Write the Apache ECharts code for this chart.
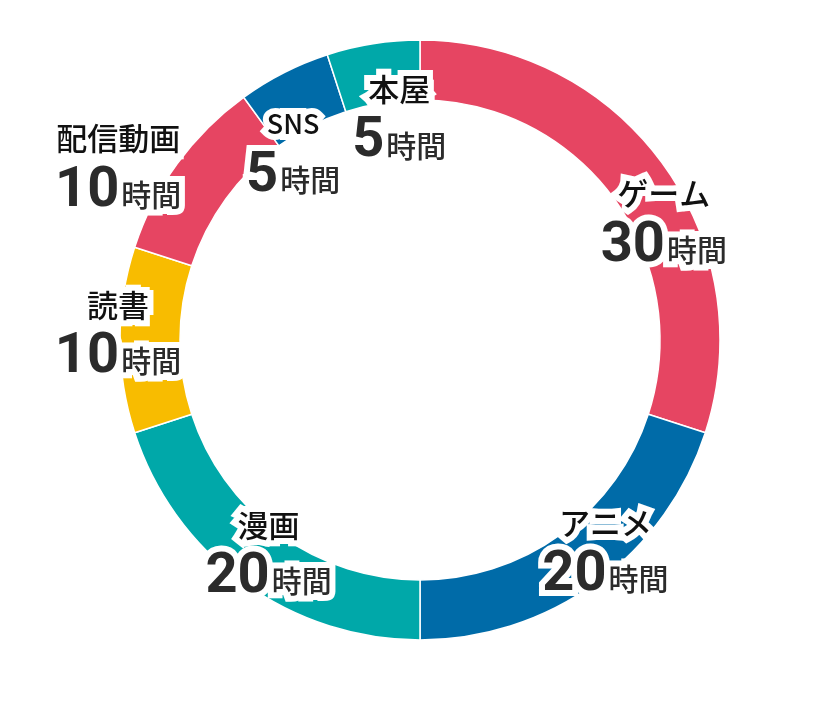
<!DOCTYPE html>
<html>
<head>
<meta charset="utf-8">
<script src="https://cdn.jsdelivr.net/npm/echarts@6/dist/echarts.min.js"></script>
<style>html,body{margin:0;padding:0;background:#fff}#c{width:840px;height:720px}</style>
</head>
<body>
<div id="c"></div>
<script>
const categories = ['ゲーム', 'アニメ', '漫画', '読書', '配信動画', 'SNS', '本屋'];
const hours = [30, 20, 20, 10, 10, 5, 5];
const unit = '時間';
const colors = ['#E64562', '#006BA8', '#00A8A9', '#F8BC00', '#E64562', '#006BA8', '#00A8A9'];
// label nudges from the library's inside-label position
const labelShift = [[23, 42], [25, -10], [9, -8], [-29, -7], [-81, -13], [-3, 55], [22, 47]];

const halo = { textBorderColor: '#fff', textBorderWidth: 12 };
const chart = echarts.init(document.getElementById('c'));
chart.setOption({
  animation: false,
  series: [{
    type: 'pie',
    center: [420, 340],
    radius: [240, 300],
    startAngle: 90,
    clockwise: true,
    data: categories.map((n, i) => ({ name: n, value: hours[i], itemStyle: { color: colors[i] } })),
    itemStyle: { borderColor: '#fff', borderWidth: 1.5 },
    label: {
      position: 'inside',
      formatter: p => '{' + (p.name === 'SNS' ? 'small' : 'name') + '|' + p.name + '}\n{num|' + p.value + '}{unit|' + unit + '}',
      ...halo,
      rich: {
        name: Object.assign({ fontFamily: 'Noto Sans CJK JP', fontWeight: 500, fontSize: 31, color: '#111', lineHeight: 50 }, halo),
        small: Object.assign({ fontFamily: 'Noto Sans CJK JP', fontWeight: 500, fontSize: 27, color: '#111', lineHeight: 50 }, halo),
        num: Object.assign({ fontFamily: 'Roboto', fontWeight: 'bold', fontSize: 56, color: '#2b2b2b', lineHeight: 56 }, halo),
        unit: Object.assign({ fontFamily: 'Noto Sans CJK JP', fontWeight: 500, fontSize: 30, color: '#2b2b2b', lineHeight: 30, verticalAlign: 'bottom', padding: [0, 0, 10, 2] }, halo)
      }
    },
    labelLine: { show: false },
    labelLayout: p => ({ dx: labelShift[p.dataIndex][0], dy: labelShift[p.dataIndex][1] }),
    emphasis: { disabled: true }
  }]
});
</script>
</body>
</html>
